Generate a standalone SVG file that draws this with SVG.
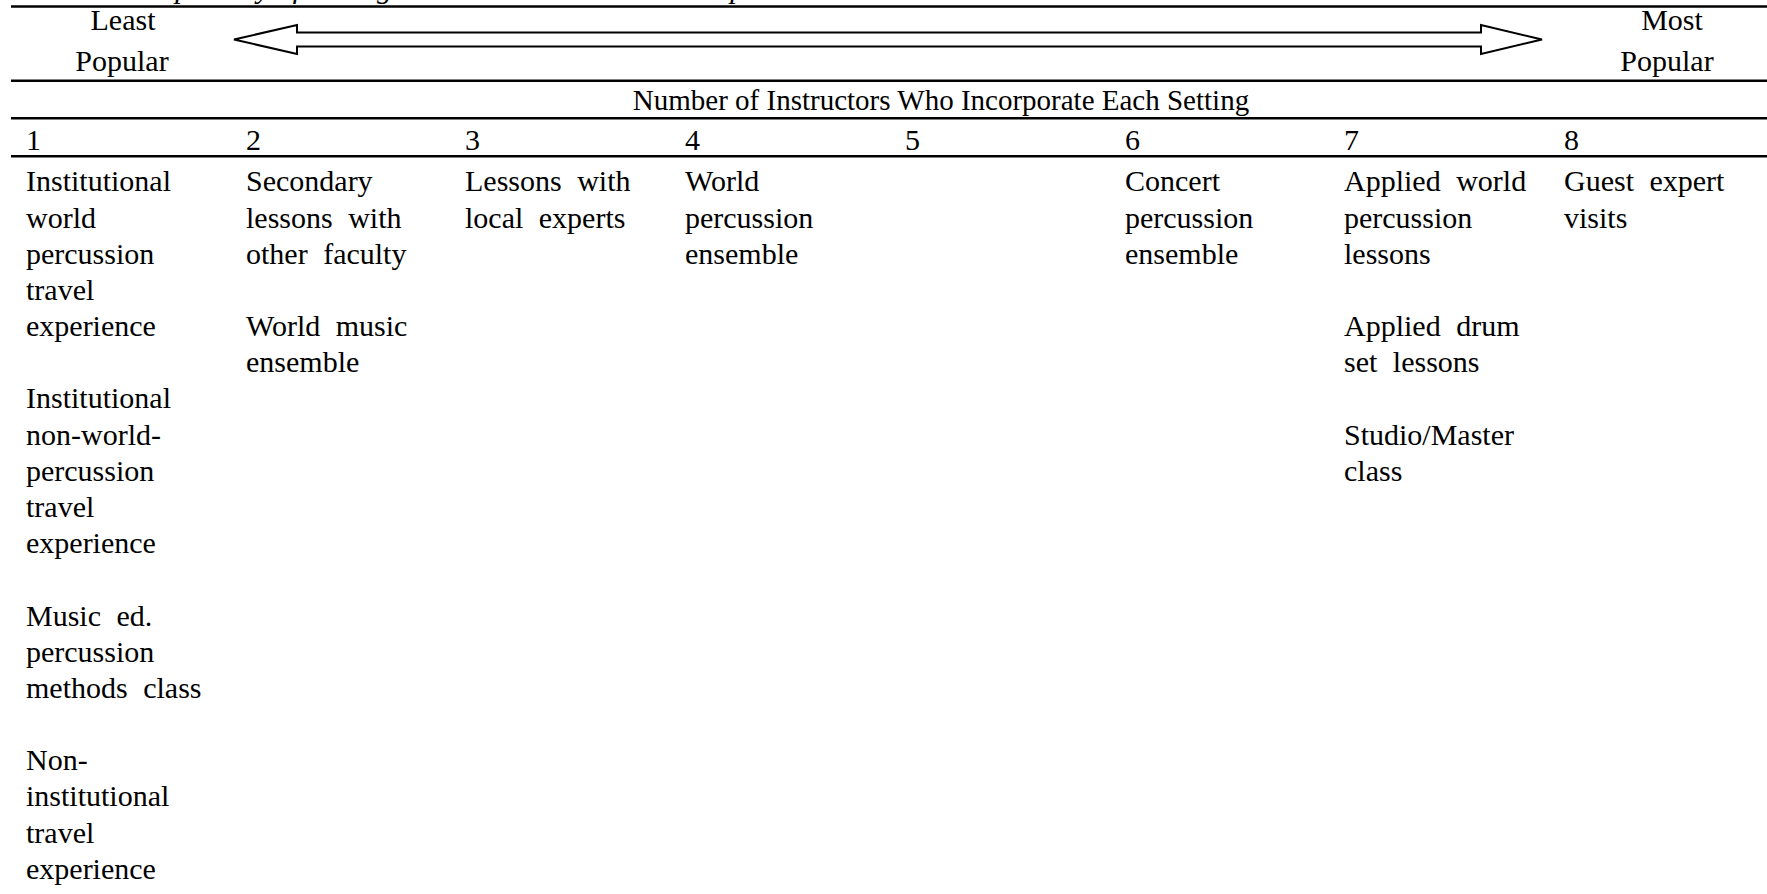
<svg xmlns="http://www.w3.org/2000/svg" width="1767" height="894" viewBox="0 0 1767 894">
<style>
text{font-family:"Liberation Serif","Times New Roman",serif;font-size:30px;fill:#000}
.c{text-anchor:middle}
.t{font-style:italic}
.h{font-size:29px}
.b text{word-spacing:8px}
.rule{stroke:#000;stroke-width:2.5;fill:none}
.arrow{stroke:#000;stroke-width:2;fill:#fff;stroke-linejoin:miter}
</style>
<rect width="1767" height="894" fill="#fff"/>
<g id="title"><text class="t" x="142" y="-2.5">Popularity of Settings in Which Instructors Incorporate World Percussion</text></g>
<g id="rules">
<line class="rule" x1="11" y1="6.5" x2="1767" y2="6.5"/>
<line class="rule" x1="11" y1="80.8" x2="1767" y2="80.8"/>
<line class="rule" x1="11" y1="118.3" x2="1767" y2="118.3"/>
<line class="rule" x1="11" y1="156.3" x2="1767" y2="156.3"/>
</g>
<g id="connectors">
<polygon class="arrow" points="234,39.5 297,25 297,32.5 1481,32.5 1481,25 1542,39.5 1481,54 1481,46.5 297,46.5 297,54"/>
</g>
<g id="least"><text class="c" x="123" y="29.5">Least</text><text class="c" x="122" y="71">Popular</text></g>
<g id="most"><text class="c" x="1672" y="29.5">Most</text><text class="c" x="1667" y="71">Popular</text></g>
<g id="header"><text class="c h" x="941" y="109.5">Number of Instructors Who Incorporate Each Setting</text></g>
<g id="numbers">
<text x="26" y="149.5">1</text><text x="246" y="149.5">2</text><text x="465" y="149.5">3</text><text x="685" y="149.5">4</text>
<text x="905" y="149.5">5</text><text x="1125" y="149.5">6</text><text x="1344" y="149.5">7</text><text x="1564" y="149.5">8</text>
</g>
<g id="col1" class="b">
<text x="26" y="191.3">Institutional</text><text x="26" y="227.5">world</text><text x="26" y="263.7">percussion</text><text x="26" y="299.8">travel</text><text x="26" y="336">experience</text>
<text x="26" y="408.4">Institutional</text><text x="26" y="444.6">non-world-</text><text x="26" y="480.7">percussion</text><text x="26" y="516.9">travel</text><text x="26" y="553.1">experience</text>
<text x="26" y="625.5">Music ed.</text><text x="26" y="661.6">percussion</text><text x="26" y="697.8">methods class</text>
<text x="26" y="770.2">Non-</text><text x="26" y="806.4">institutional</text><text x="26" y="842.5">travel</text><text x="26" y="878.7">experience</text>
</g>
<g id="col2" class="b">
<text x="246" y="191.3">Secondary</text><text x="246" y="227.5">lessons with</text><text x="246" y="263.7">other faculty</text>
<text x="246" y="336">World music</text><text x="246" y="372.2">ensemble</text>
</g>
<g id="col3" class="b"><text x="465" y="191.3">Lessons with</text><text x="465" y="227.5">local experts</text></g>
<g id="col4" class="b"><text x="685" y="191.3">World</text><text x="685" y="227.5">percussion</text><text x="685" y="263.7">ensemble</text></g>
<g id="col6" class="b"><text x="1125" y="191.3">Concert</text><text x="1125" y="227.5">percussion</text><text x="1125" y="263.7">ensemble</text></g>
<g id="col7" class="b">
<text x="1344" y="191.3">Applied world</text><text x="1344" y="227.5">percussion</text><text x="1344" y="263.7">lessons</text>
<text x="1344" y="336">Applied drum</text><text x="1344" y="372.2">set lessons</text>
<text x="1344" y="444.6">Studio/Master</text><text x="1344" y="480.7">class</text>
</g>
<g id="col8" class="b"><text x="1564" y="191.3">Guest expert</text><text x="1564" y="227.5">visits</text></g>
</svg>
